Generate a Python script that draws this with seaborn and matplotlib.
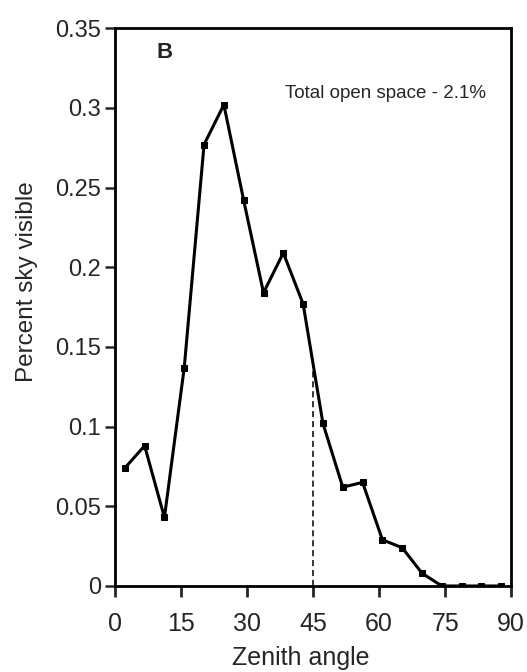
import numpy as np
import pandas as pd
import matplotlib
matplotlib.use("Agg")
import matplotlib.pyplot as plt
import seaborn as sns

zenith = [2.25, 6.75, 11.25, 15.75, 20.25, 24.75, 29.25, 33.75, 38.25, 42.75,
          47.25, 51.75, 56.25, 60.75, 65.25, 69.75, 74.25, 78.75, 83.25, 87.75]
sky = [0.074, 0.088, 0.043, 0.137, 0.277, 0.302, 0.242, 0.184, 0.209, 0.177,
       0.102, 0.062, 0.065, 0.029, 0.024, 0.008, 0.0, 0.0, 0.0, 0.0]
x_ticks = [0, 15, 30, 45, 60, 75, 90]
y_ticks = [0, 0.05, 0.1, 0.15, 0.2, 0.25, 0.3, 0.35]
y_tick_labels = ["0", "0.05", "0.1", "0.15", "0.2", "0.25", "0.3", "0.35"]
median_angle = 45

df = pd.DataFrame({"Zenith angle": zenith, "Percent sky visible": sky})

sns.set_style("ticks")
plt.rcParams["font.family"] = ["Liberation Sans", "DejaVu Sans"]

fig = plt.figure(figsize=(5.27, 6.72), dpi=100)
ax = fig.add_axes([0.218, 0.128, 0.752, 0.83])

sns.lineplot(data=df, x="Zenith angle", y="Percent sky visible", ax=ax,
             color="black", linewidth=2.2, marker="s", markersize=4.5,
             markeredgecolor="black", markerfacecolor="black")

# dashed line from the axis up to the curve
y_cross = np.interp(median_angle, zenith, sky)
ax.plot([median_angle, median_angle], [0, y_cross], color="black",
        linestyle=(0, (4, 2.5)), linewidth=1.1)

ax.set_xlim(0, 90)
ax.set_ylim(0, 0.35)
ax.set_xticks(x_ticks)
ax.set_yticks(y_ticks)
ax.set_yticklabels(y_tick_labels)
ax.tick_params(axis="y", labelsize=17, direction="out", length=7, width=1.8, pad=3)
ax.tick_params(axis="x", labelsize=18, direction="out", length=8, width=2, pad=11)

for s in ax.spines.values():
    s.set_linewidth(2)
    s.set_color("black")

ax.set_xlabel("Zenith angle", fontsize=18, labelpad=0)
ax.set_ylabel("Percent sky visible", fontsize=17.5)
ax.yaxis.set_label_coords(-0.195, 0.545)
ax.xaxis.set_label_coords(0.47, -0.107)

ax.text(0.105, 0.975, "B", transform=ax.transAxes, fontsize=16,
        fontweight="bold", va="top", ha="left")
ax.text(0.43, 0.883, "Total open space - 2.1%", transform=ax.transAxes,
        fontsize=13.5, va="center", ha="left")

fig.savefig("out.png", dpi=100)
